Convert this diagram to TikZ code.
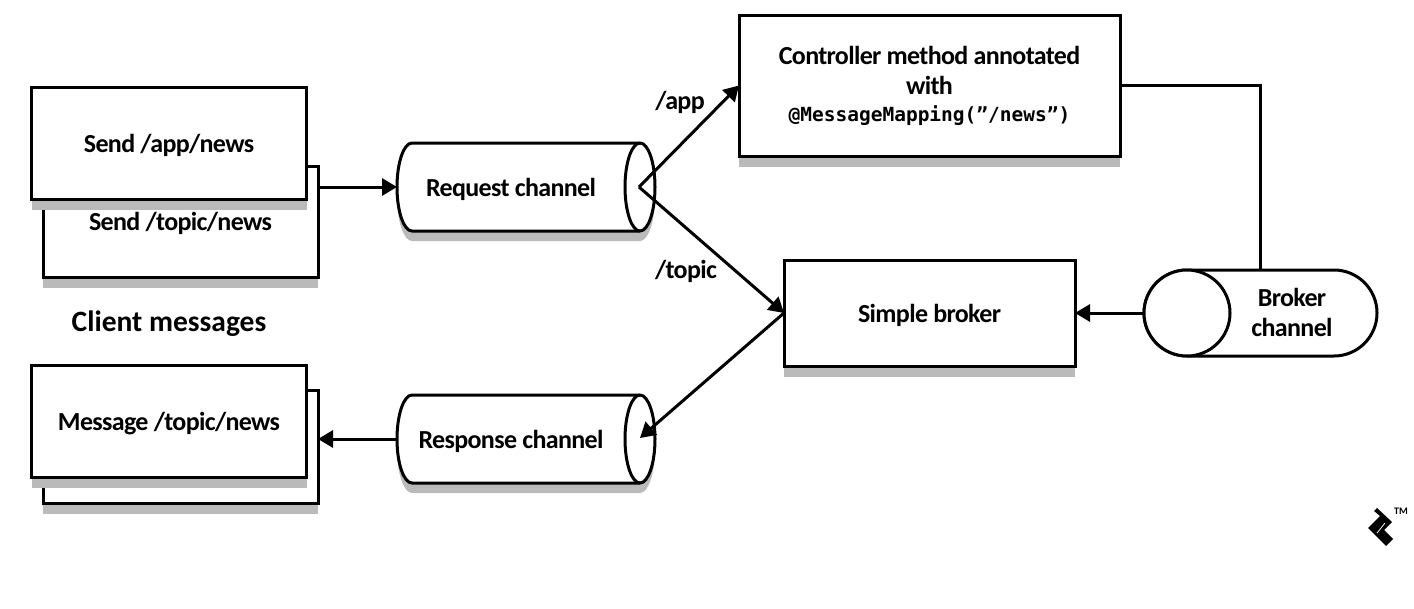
\documentclass[tikz,border=0pt]{standalone}
\usepackage{fontspec}
\setmainfont{Carlito}[LetterSpace=-2.5]
\newfontfamily\clientfont{Carlito}
\newfontfamily\codefont{DejaVu Sans Mono}
\usetikzlibrary{arrows.meta,shapes.misc,shadows}
\tikzset{
  flow/.style={line width=3pt,-{Triangle[length=15pt,width=17pt]}},
  plainline/.style={line width=3pt},
  labeltext/.style={font=\fontsize{26}{30}\selectfont\bfseries,align=center},
  oneline/.style={text height=23pt,text depth=5pt},
  msgbox/.style={draw,line width=3pt,fill=white,inner sep=0pt,outer sep=0pt,labeltext,
    drop shadow={shadow xshift=0pt,shadow yshift=-11pt,fill=black!27,opacity=1}},
  chanbox/.style={inner sep=0pt,outer sep=0pt,minimum width=228pt,minimum height=88pt,labeltext,oneline},
  chanline/.style={draw,line width=3pt,fill=white}
}
% channel drawn as a lying cylinder; #1 name, #2 y of its axis, #3 text
\newcommand{\channel}[3]{
  \fill [black!27] (412,#2-34) -- (640,#2-34) arc [start angle=-90,end angle=90,x radius=15,y radius=44]
    -- (412,#2+54) arc [start angle=90,end angle=270,x radius=15,y radius=44] -- cycle;
  \path [chanline] (412,#2-44) -- (640,#2-44) arc [start angle=-90,end angle=90,x radius=15,y radius=44]
    -- (412,#2+44) arc [start angle=90,end angle=270,x radius=15,y radius=44] -- cycle;
  \draw [line width=3pt] (640,#2-44) arc [start angle=-90,end angle=-270,x radius=15,y radius=44];
  \node [chanbox] (#1) at (511,#2) {#3};
}
\begin{document}
\begin{tikzpicture}[x=1pt,y=-1pt]
\useasboundingbox (0,0) rectangle (1414,608);

% client messages
\node [msgbox,oneline,minimum width=275pt,minimum height=111pt] (sendtopic) at (180.5,221.5) {Send /topic/news};
\node [msgbox,oneline,minimum width=275pt,minimum height=112pt] (sendapp) at (169,143) {Send /app/news};
\node [oneline,font=\clientfont\fontsize{29.5}{30}\selectfont\bfseries] (clientlabel) at (169,322) {Client messages};
\node [msgbox,minimum width=275pt,minimum height=113pt] (msgback) at (180.5,446.5) {};
\node [msgbox,oneline,minimum width=275pt,minimum height=112pt] (msgfront) at (169,421) {Message /topic/news};

% channels
\channel{reqchan}{187}{Request channel}
\channel{respchan}{439}{Response channel}
\coordinate (fork) at (639,187);
\coordinate (respin) at (640,438);

% right hand side
\node [msgbox,minimum width=381pt,minimum height=141pt] (controller) at (929.5,85.5)
  {Controller method annotated\\with\\[-3pt]{\codefont\fontsize{19.5}{24}\selectfont @MessageMapping(”/news”)}};
\node [msgbox,oneline,minimum width=291pt,minimum height=106pt] (broker) at (929.5,313) {Simple broker};
\node [rounded rectangle,draw,line width=3pt,fill=white,inner sep=0pt,outer sep=0pt,
  minimum width=233pt,minimum height=86pt] (brokerbody) at (1260.5,313) {};
\node [circle,draw,line width=3pt,fill=white,inner sep=0pt,outer sep=0pt,minimum size=86pt] (brokerend) at (1187,313) {};
\node [labeltext] (brokertext) at (1292,312) {Broker\\channel};

\draw [flow] (sendtopic.east |- reqchan.west) -- (reqchan.west);
\draw [flow] (fork) -- (controller.west);
\draw [flow] (fork) -- (broker.west);
\draw [flow] (broker.west) -- (respin);
\draw [flow] (respchan.west) -- (msgback.east |- respchan.west);
\draw [flow] (brokerend.west) -- (broker.east);
\draw [plainline] (controller.east) -| (brokerbody.north);

\node [labeltext,oneline] (applabel) at (680,100) {/app};
\node [labeltext,oneline] (topiclabel) at (686,269) {/topic};

% logo
\fill (1377,508) -- (1392,522) -- (1384,530) -- (1393,539) -- (1386,546) -- (1368,528) -- (1380,516) -- (1374,511) -- cycle;
\draw [white,line width=.8pt] (1377,533) -- (1385,523);
\node [font=\clientfont\fontsize{10}{10}\selectfont\bfseries,inner sep=0pt] (tm) at (1401,511) {TM};
\end{tikzpicture}
\end{document}
